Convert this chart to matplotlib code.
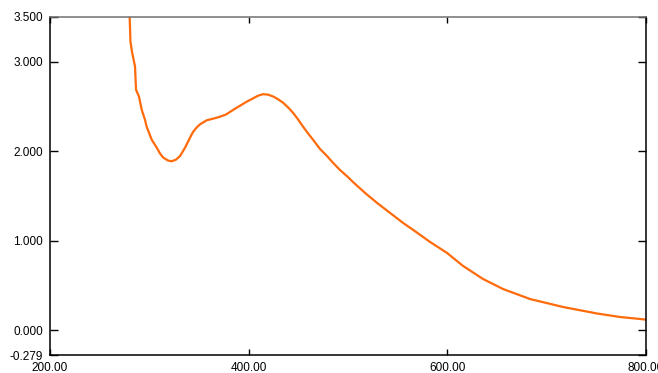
import numpy as np
import matplotlib
matplotlib.use('Agg')
from matplotlib import pyplot as plt

# 스펙트럼 데이터 (파장 nm, 흡광도)
wavelength = [279.0, 281.0, 282.5, 284.6, 285.6, 286.6, 289.6, 292.3, 295.6, 297.3,
              302.4, 307.4, 310.7, 313.8, 318.8, 322.5, 326.8, 330.9, 335.9, 340.9,
              344.0, 347.7, 351.0, 357.7, 364.1, 371.1, 377.2, 384.2, 391.3, 398.0,
              404.4, 409.4, 414.4, 419.5, 424.5, 429.5, 434.6, 439.6, 444.6, 449.7,
              454.7, 459.7, 464.8, 471.8, 478.9, 484.9, 491.9, 500.0, 505.0, 517.1,
              529.2, 542.3, 555.4, 568.5, 582.6, 599.7, 615.8, 635.9, 656.0, 683.2,
              716.4, 750.7, 773.8, 799.0, 800.0]
absorbance = [3.90, 3.225, 3.113, 3.000, 2.945, 2.688, 2.609, 2.464, 2.352, 2.274,
              2.128, 2.040, 1.975, 1.930, 1.895, 1.887, 1.905, 1.945, 2.038, 2.150,
              2.215, 2.265, 2.300, 2.345, 2.363, 2.385, 2.410, 2.460, 2.508, 2.553,
              2.590, 2.620, 2.637, 2.632, 2.612, 2.581, 2.542, 2.490, 2.430, 2.355,
              2.275, 2.200, 2.128, 2.025, 1.945, 1.870, 1.790, 1.710, 1.655, 1.534,
              1.422, 1.310, 1.198, 1.097, 0.985, 0.862, 0.717, 0.571, 0.459, 0.347,
              0.258, 0.185, 0.146, 0.118, 0.117]

xticks = [200, 400, 600, 800]
yticks = [-0.279, 0.0, 1.0, 2.0, 3.0, 3.5]

plt.rcParams['font.family'] = ['Liberation Sans', 'DejaVu Sans']

fig = plt.figure(figsize=(6.58, 3.73), dpi=100)
ax = fig.add_axes([50/658, 1 - 355/373, 596/658, 338/373])

ax.plot(wavelength, absorbance, color='#ff6a0a', lw=1.6)

ax.set_xlim(200, 800)
ax.set_ylim(-0.279, 3.5)
ax.set_xticks(xticks)
ax.set_xticklabels(['%.2f' % v for v in xticks])
ax.set_yticks(yticks)
ax.set_yticklabels(['%.3f' % v for v in yticks])

ax.tick_params(axis='both', direction='in', labelsize=8.5, width=1, color='black')
ax.tick_params(axis='y', length=6, pad=5, right=True)
ax.tick_params(axis='x', length=4, pad=5, top=True)

for s in ['left', 'bottom', 'right']:
    ax.spines[s].set_color('black')
    ax.spines[s].set_linewidth(1.1)
ax.spines['top'].set_color('#707070')
ax.spines['top'].set_linewidth(1.1)

fig.savefig('out.png', dpi=100)
